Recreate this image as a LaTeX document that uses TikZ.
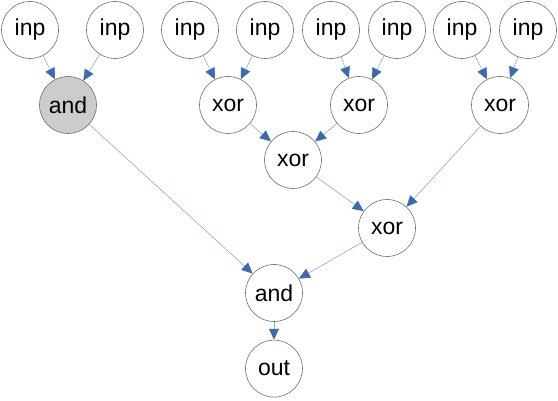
\documentclass[tikz,border=0pt]{standalone}
\usepackage{fontspec}
\setmainfont{Liberation Sans}
\usetikzlibrary{arrows.meta, positioning}
\definecolor{edgeblue}{HTML}{8AAAD8}
\definecolor{tipblue}{HTML}{3A6BB0}
\definecolor{ringgray}{HTML}{6E6E6E}
\definecolor{andgray}{HTML}{CCCCCC}

\begin{document}
\begin{tikzpicture}[
                x=1pt, y=-1pt,
                gate/.style={
                    circle,
                    draw=ringgray,
                    line width=0.6pt,
                    minimum size=57pt,
                    inner sep=0pt,
                    font=\fontsize{23}{26}\selectfont
                },
                andgate/.style={
                    gate,
                    fill=andgray
                },
                arr/.style={
                    -{Triangle[length=11pt,width=10pt,color=tipblue]},
                    draw=edgeblue,
                    line width=0.6pt
                },
                node distance=18pt
            ]
                \useasboundingbox (0,0) rectangle (558,401);

                % inputs
                \node[gate] (in1) at (30,30) {inp};
                \node[gate] (in2) at (115,30) {inp};
                \node[gate] (in3) at (190,30) {inp};
                \node[gate] (in4) at (265,30) {inp};
                \node[gate] (in5) at (331,30) {inp};
                \node[gate] (in6) at (397,30) {inp};
                \node[gate] (in7) at (462,30) {inp};
                \node[gate] (in8) at (528,30) {inp};

                % gates
                \node[andgate] (and1) at (68,105) {and};
                \node[gate] (xor1) at (228,105) {xor};
                \node[gate] (xor2) at (359,105) {xor};
                \node[gate] (xor3) at (500,105) {xor};
                \node[gate] (xor4) at (293,160) {xor};
                \node[gate] (xor5) at (387,228) {xor};
                \node[gate] (and2) at (274,293) {and};
                \node[gate, below=of and2] (out) {out};

                \draw[arr] (in1) -- (and1);
                \draw[arr] (in2) -- (and1);
                \draw[arr] (in3) -- (xor1);
                \draw[arr] (in4) -- (xor1);
                \draw[arr] (in5) -- (xor2);
                \draw[arr] (in6) -- (xor2);
                \draw[arr] (in7) -- (xor3);
                \draw[arr] (in8) -- (xor3);
                \draw[arr] (xor1) -- (xor4);
                \draw[arr] (xor2) -- (xor4);
                \draw[arr] (xor4) -- (xor5);
                \draw[arr] (xor3) -- (xor5);
                \draw[arr] (and1) -- (and2);
                \draw[arr] (xor5) -- (and2);
                \draw[arr] (and2) -- (out);
            \end{tikzpicture}
\end{document}
